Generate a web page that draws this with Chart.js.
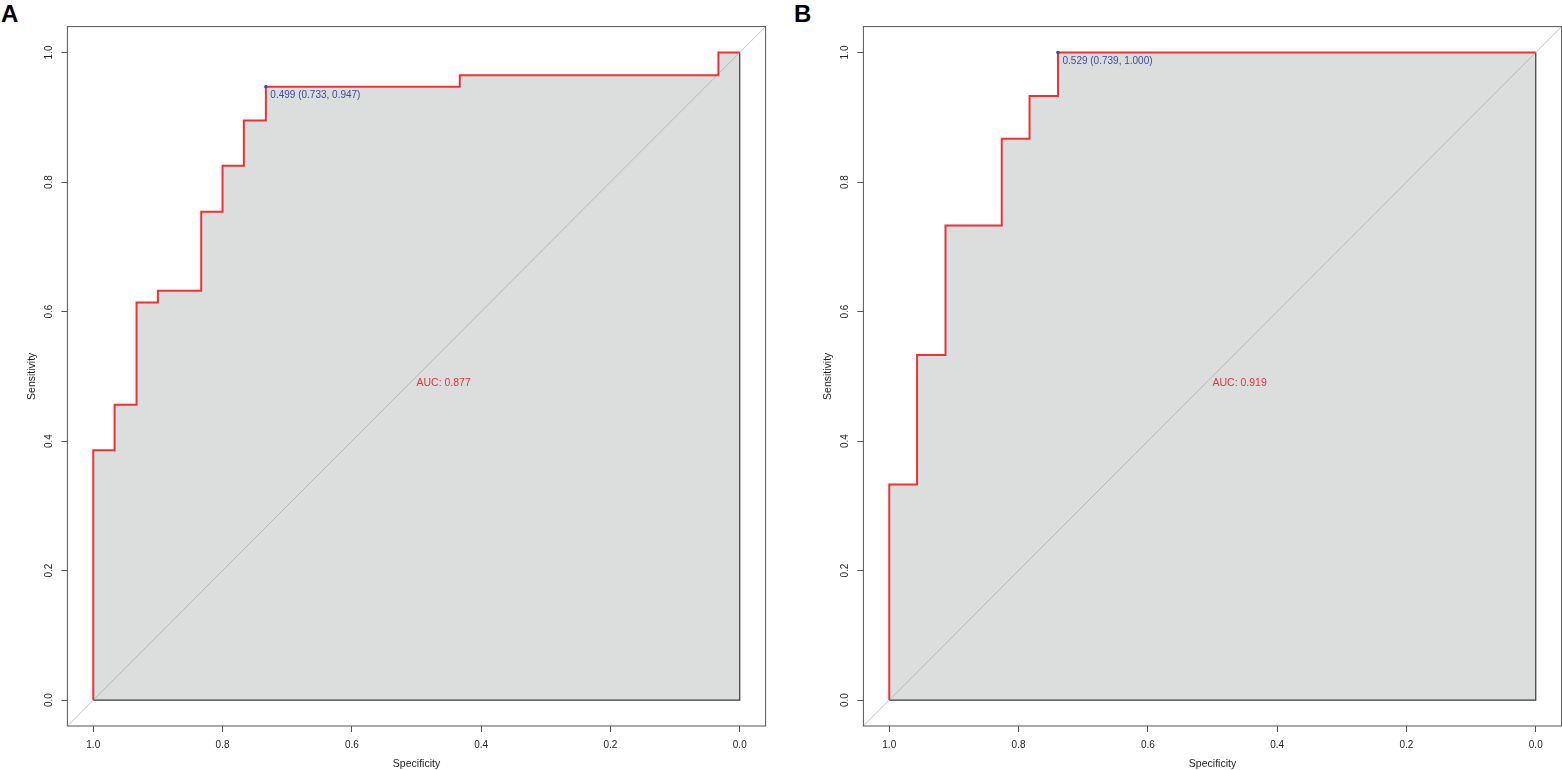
<!DOCTYPE html>
<html>
<head>
<meta charset="utf-8">
<script src="https://cdn.jsdelivr.net/npm/chart.js@4.4.1/dist/chart.umd.min.js"></script>
<style>
  html, body { margin: 0; padding: 0; background: #fff; overflow: hidden; }
  body { width: 1562px; height: 770px; position: relative; font-family: "Liberation Sans", Arial, sans-serif; }
  .panel { position: absolute; top: 0; width: 781px; height: 770px; }
  .tag { position: absolute; top: 0; font-weight: bold; font-size: 24px; line-height: 1.15; color: #000; }
</style>
</head>
<body>
<div class="tag" style="left:1px">A</div>
<div class="tag" style="left:794px">B</div>
<div class="panel" style="left:0"><canvas id="rocA"></canvas></div>
<div class="panel" style="left:796px"><canvas id="rocB"></canvas></div>
<script>
// tick labels shared by both axes of both panels
const tickValues = [0, 0.2, 0.4, 0.6, 0.8, 1.0];

// panel A : ROC steps (specificity, sensitivity)
const specA = [1, 1, 0.967, 0.967, 0.933, 0.933, 0.900, 0.900, 0.833, 0.833, 0.800, 0.800,
               0.767, 0.767, 0.733, 0.733, 0.433, 0.433, 0.033, 0.033, 0];
const sensA = [0, 0.386, 0.386, 0.456, 0.456, 0.614, 0.614, 0.632, 0.632, 0.754, 0.754, 0.825,
               0.825, 0.895, 0.895, 0.947, 0.947, 0.965, 0.965, 1, 1];
const aucA = 0.877;
const bestA = [0.499, 0.733, 0.947]; // threshold, specificity, sensitivity

// panel B
const specB = [1, 1, 0.957, 0.957, 0.913, 0.913, 0.826, 0.826, 0.783, 0.783, 0.739, 0.739, 0];
const sensB = [0, 0.333, 0.333, 0.533, 0.533, 0.733, 0.733, 0.867, 0.867, 0.933, 0.933, 1, 1];
const aucB = 0.919;
const bestB = [0.529, 0.739, 1.000];

const RED = "#ee3338";
const BLUE = "#3c4ca0";
const FONT = '"Liberation Sans", Arial, sans-serif';
const pad = 0.04; // base R extends the range by 4%

Chart.defaults.font.family = FONT;

function toPoints(xs, ys) {
  return xs.map((x, i) => ({ x: x, y: ys[i] }));
}

// frame, rotated y labels, AUC and threshold texts
const rocDecor = {
  id: "rocDecor",
  afterDraw(chart, args, opts) {
    const { ctx, chartArea: a, scales: { x, y } } = chart;
    ctx.save();
    ctx.strokeStyle = "#555";
    ctx.lineWidth = 1;
    ctx.strokeRect(a.left, a.top, a.right - a.left, a.bottom - a.top);

    ctx.fillStyle = "#222";
    ctx.font = "10px " + FONT;
    ctx.textAlign = "center";
    ctx.textBaseline = "middle";
    y.ticks.forEach(t => {
      ctx.save();
      ctx.translate(a.left - 18, y.getPixelForValue(t.value));
      ctx.rotate(-Math.PI / 2);
      ctx.fillText(t.value.toFixed(1), 0, 0);
      ctx.restore();
    });

    ctx.textAlign = "left";
    ctx.textBaseline = "alphabetic";
    ctx.fillStyle = RED;
    ctx.font = "10.5px " + FONT;
    ctx.fillText("AUC: " + opts.auc.toFixed(3), x.getPixelForValue(0.5), y.getPixelForValue(0.5) + 9.5);

    const b = opts.best;
    ctx.fillStyle = BLUE;
    ctx.font = "10px " + FONT;
    ctx.fillText(b[0].toFixed(3) + " (" + b[1].toFixed(3) + ", " + b[2].toFixed(3) + ")",
      x.getPixelForValue(b[1]) + 4.5, y.getPixelForValue(b[2]) + 11.5);
    ctx.restore();
  }
};

function makeRoc(id, spec, sens, auc, best) {
  const curve = toPoints(spec, sens);
  const n = spec.length - 1;
  const edge = [
    { x: spec[0], y: sens[0] },
    { x: spec[n], y: sens[0] },
    { x: spec[n], y: sens[n] }
  ];
  const diag = [{ x: 1 + pad, y: -pad }, { x: -pad, y: 1 + pad }];

  const axisCommon = {
    type: "linear",
    min: -pad,
    max: 1 + pad,
    afterBuildTicks: s => { s.ticks = tickValues.map(v => ({ value: v })); },
    grid: { drawOnChartArea: false, drawTicks: true, tickLength: 6, color: "#555" },
    border: { display: false }
  };

  return new Chart(document.getElementById(id), {
    type: "scatter",
    data: {
      datasets: [
        { data: curve, showLine: true, pointRadius: 0, borderWidth: 0,
          backgroundColor: "#dcdddd", fill: "origin", order: 5 },
        { data: edge, showLine: true, pointRadius: 0, borderColor: "#3a3a3a",
          borderWidth: 1.2, fill: false, order: 4 },
        { data: diag, showLine: true, pointRadius: 0, borderColor: "#a9a9a9",
          borderWidth: 0.7, fill: false, order: 3 },
        { data: curve, showLine: true, pointRadius: 0, borderColor: RED,
          borderWidth: 2, fill: false, order: 2 },
        { data: [{ x: best[1], y: best[2] }], pointRadius: 1.8, pointBorderWidth: 0,
          backgroundColor: BLUE, order: 1 }
      ]
    },
    options: {
      responsive: true,
      maintainAspectRatio: false,
      animation: false,
      events: [],
      layout: { padding: { top: 26.6, right: 15.4, left: 0, bottom: 0 } },
      plugins: {
        legend: { display: false },
        tooltip: { enabled: false },
        rocDecor: { auc: auc, best: best }
      },
      scales: {
        x: Object.assign({}, axisCommon, {
          reverse: true,
          afterFit: s => { s.height = 44; },
          ticks: { padding: 7, color: "#222", font: { size: 10 }, maxRotation: 0,
                   autoSkip: false, callback: v => v.toFixed(1) },
          title: { display: true, text: "Specificity", color: "#222",
                   font: { size: 10.5 }, padding: { top: 0, bottom: 0 } }
        }),
        y: Object.assign({}, axisCommon, {
          afterFit: s => { s.width = 67.4; },
          ticks: { display: false },
          title: { display: true, text: "Sensitivity", color: "#222",
                   font: { size: 10.5 }, padding: { top: 25.7, bottom: 0 } }
        })
      }
    },
    plugins: [rocDecor]
  });
}

makeRoc("rocA", specA, sensA, aucA, bestA);
makeRoc("rocB", specB, sensB, aucB, bestB);
</script>
</body>
</html>
